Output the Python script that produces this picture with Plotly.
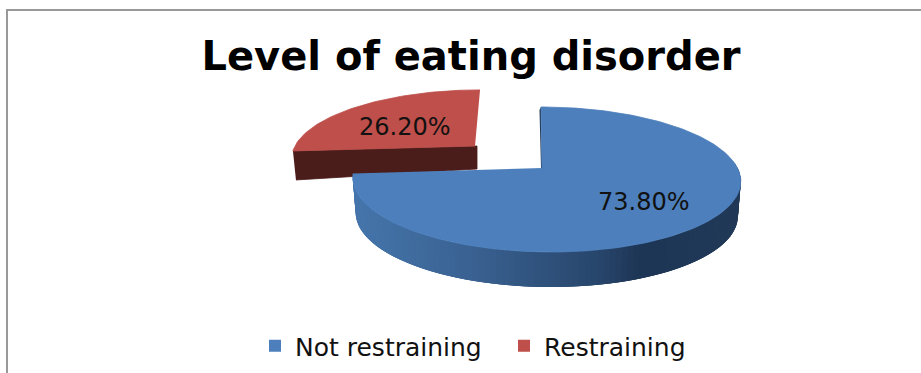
import math
import plotly.graph_objects as go

categories = ["Not restraining", "Restraining"]
values = [73.8, 26.2]
value_labels = ["73.80%", "26.20%"]
top_colors = ["#4C7FBB", "#BE4F4B"]
RED_SIDE = "#4A1C1A"

# view geometry (pixels)
K = 0.1586
VIEW = {
    "Not restraining": dict(x0=546, y0=168, A=191.5, B=70.7, shear=-5, depth=35, inset=0.985),
    "Restraining": dict(x0=475, y0=146, A=180, B=65, shear=5, depth=26, inset=1.0),
}
LABEL_POS = {"Not restraining": (644, 202), "Restraining": (405, 127)}
SIDE_STOPS = [(352, (70, 118, 172)), (470, (58, 98, 146)), (600, (40, 70, 108)),
              (640, (30, 54, 86)), (740, (33, 58, 88))]


def project(theta, v):
    X, Y = math.sin(theta), math.cos(theta)
    w = 1 + K * Y
    return v["x0"] + v["A"] * X / w + v["shear"] * Y, v["y0"] - v["B"] * Y / w


def side_color(x):
    for (xa, ca), (xb, cb) in zip(SIDE_STOPS, SIDE_STOPS[1:]):
        if x <= xb:
            f = max(0, (x - xa) / (xb - xa))
            return "rgb(%d,%d,%d)" % tuple(a + (b - a) * f for a, b in zip(ca, cb))
    return "rgb(%d,%d,%d)" % SIDE_STOPS[-1][1]


def poly(xs, ys, color, line=0.8):
    return go.Scatter(x=xs, y=ys, mode="lines", fill="toself", fillcolor=color,
                      line=dict(color=color, width=line), showlegend=False, hoverinfo="skip")


total = sum(values)
blue_end = 2 * math.pi * values[0] / total
fig = go.Figure()

# detached slice: front wall then top face
rv = VIEW["Restraining"]
ax, ay = rv["x0"], rv["y0"]
lx, ly = project(blue_end, rv)
fig.add_trace(poly([lx, ax + 2, ax + 2, lx + 3], [ly, ay, ay + 23, ly + 29], RED_SIDE))
n = 60
pts = [project(blue_end + (2 * math.pi - blue_end) * i / n, rv) for i in range(n + 1)]
fig.add_trace(poly([ax] + [p[0] for p in pts], [ay] + [p[1] for p in pts], top_colors[1]))

# main slice: rim wall in overlapping strips, then top face
bv = VIEW["Not restraining"]
steps = 110
t_start = math.pi / 2 - 0.06
d_t = (blue_end - t_start) / steps


def low(p):
    return bv["x0"] + (p[0] - bv["x0"]) * bv["inset"], p[1] + bv["depth"]


for i in range(steps):
    t1 = t_start + d_t * i
    t2 = min(blue_end, t1 + 3 * d_t)
    arc = [project(t1 + (t2 - t1) * j / 6, bv) for j in range(7)]
    lows = [low(p) for p in reversed(arc)]
    fig.add_trace(poly([p[0] for p in arc + lows], [p[1] for p in arc + lows],
                       side_color(project(t1 + d_t / 2, bv)[0]), line=0))

# thin inner wall of the notch
sx, sy = project(0, bv)
apex_x = bv["x0"] - 4
fig.add_trace(poly([sx, apex_x, apex_x - 1, sx - 1.5], [sy, bv["y0"], bv["y0"], sy + 3], "#1D3350", line=0))

n = 200
pts = [project(blue_end * i / n, bv) for i in range(n + 1)]
fig.add_trace(poly([apex_x] + [p[0] for p in pts], [bv["y0"]] + [p[1] for p in pts], top_colors[0]))

# legend entries
for name, col in zip(categories, top_colors):
    fig.add_trace(go.Scatter(x=[None], y=[None], mode="markers", name=name,
                             marker=dict(symbol="square", size=12, color=col)))

annotations = [dict(x=LABEL_POS[c][0], y=LABEL_POS[c][1], text=t, showarrow=False,
                    font=dict(family="DejaVu Sans", size=24, color="#111111"), xref="x", yref="y")
               for c, t in zip(categories, value_labels)]

fig.update_layout(
    width=921, height=373, margin=dict(l=0, r=0, t=0, b=0),
    paper_bgcolor="white", plot_bgcolor="white",
    title=dict(text="<b>Level of eating disorder</b>", x=471 / 921, y=1 - 56 / 373,
               xanchor="center", yanchor="middle",
               font=dict(family="DejaVu Sans", size=40, color="black")),
    xaxis=dict(range=[0, 921], visible=False, fixedrange=True),
    yaxis=dict(range=[373, 0], visible=False, fixedrange=True),
    legend=dict(orientation="h", x=255 / 921, y=1 - 346 / 373, xanchor="left", yanchor="middle",
                entrywidth=204, entrywidthmode="pixels",
                font=dict(family="DejaVu Sans", size=25, color="#111111"), bgcolor="rgba(0,0,0,0)"),
    annotations=annotations,
    shapes=[dict(type="line", x0=7, x1=7, y0=10, y1=373, xref="x", yref="y",
                 line=dict(color="#999999", width=2)),
            dict(type="line", x0=6, x1=921, y0=10, y1=10, xref="x", yref="y",
                 line=dict(color="#999999", width=2))],
)
fig.write_html("out.html", config={"displayModeBar": False},
               post_script="document.body.style.margin='0';document.body.style.overflow='hidden';")
